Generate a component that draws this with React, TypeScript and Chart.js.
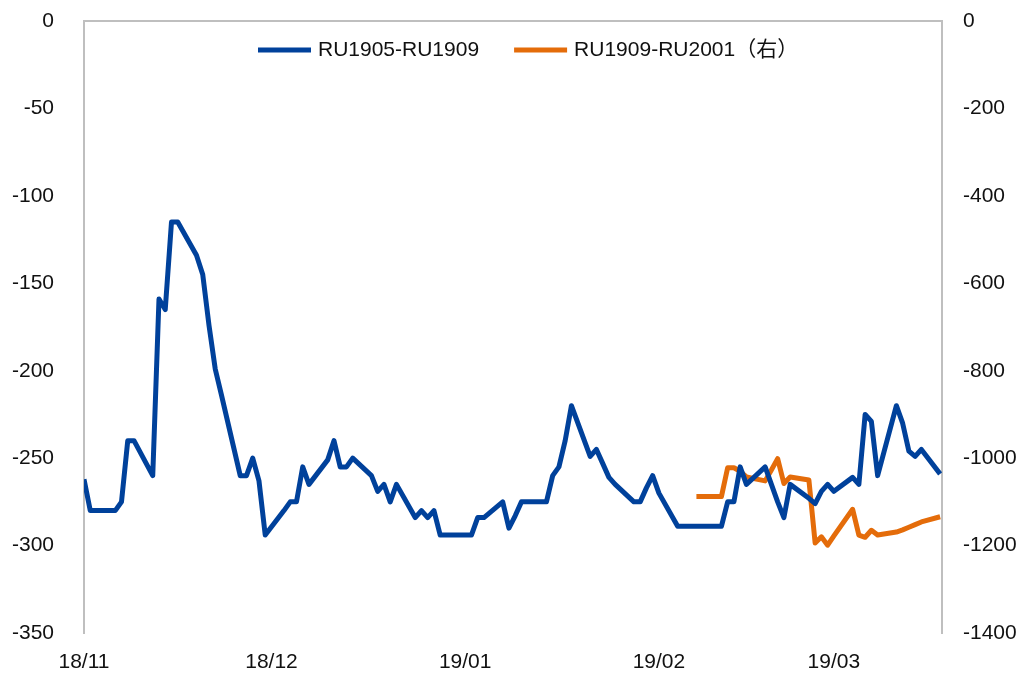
import React, { useEffect, useRef } from 'react';
import { Chart, registerables } from 'chart.js';

Chart.register(...registerables);

const SERIES_A_LABEL = 'RU1905-RU1909';
const SERIES_B_LABEL = 'RU1909-RU2001（右）';

const DATES_A = [
  '2018-11-01', '2018-11-02', '2018-11-05', '2018-11-06', '2018-11-07', '2018-11-08', '2018-11-09',
  '2018-11-12', '2018-11-13', '2018-11-14', '2018-11-15', '2018-11-16',
  '2018-11-19', '2018-11-20', '2018-11-21', '2018-11-22', '2018-11-23',
  '2018-11-26', '2018-11-27', '2018-11-28', '2018-11-29', '2018-11-30',
  '2018-12-03', '2018-12-04', '2018-12-05', '2018-12-06', '2018-12-07',
  '2018-12-10', '2018-12-11', '2018-12-12', '2018-12-13', '2018-12-14',
  '2018-12-17', '2018-12-18', '2018-12-19', '2018-12-20', '2018-12-21',
  '2018-12-24', '2018-12-25', '2018-12-26', '2018-12-27', '2018-12-28',
  '2019-01-02', '2019-01-03', '2019-01-04',
  '2019-01-07', '2019-01-08', '2019-01-09', '2019-01-10', '2019-01-11',
  '2019-01-14', '2019-01-15', '2019-01-16', '2019-01-17', '2019-01-18',
  '2019-01-21', '2019-01-22', '2019-01-23', '2019-01-24', '2019-01-25',
  '2019-01-28', '2019-01-29', '2019-01-30', '2019-01-31', '2019-02-01',
  '2019-02-04', '2019-02-11', '2019-02-12', '2019-02-13', '2019-02-14', '2019-02-15',
  '2019-02-18', '2019-02-19', '2019-02-20', '2019-02-21', '2019-02-22',
  '2019-02-25', '2019-02-26', '2019-02-27', '2019-02-28', '2019-03-01',
  '2019-03-04', '2019-03-05', '2019-03-06', '2019-03-07', '2019-03-08',
  '2019-03-11', '2019-03-12', '2019-03-13', '2019-03-14', '2019-03-15',
  '2019-03-18',
];
const VALUES_A = [
  -262, -280, -280, -280, -275, -240, -240,
  -260, -159, -165, -115, -115,
  -134, -145, -174, -199, -214,
  -260, -260, -250, -263, -294,
  -280, -275, -275, -255, -265,
  -251, -240, -255, -255, -250,
  -260, -269, -265, -275, -265,
  -284, -280, -284, -280, -294,
  -294, -284, -284,
  -275, -290, -283, -275, -275,
  -275, -260, -255, -240, -220,
  -249, -245, -253, -261, -265,
  -275, -275, -267, -260, -270,
  -289, -289, -275, -275, -255, -265,
  -255, -265, -275, -284, -265,
  -273, -276, -269, -265, -269,
  -261, -265, -225, -229, -260,
  -220, -230, -246, -249, -245,
  -259,
];

const DATES_B = [
  '2019-02-07', '2019-02-11', '2019-02-12', '2019-02-13', '2019-02-14', '2019-02-15',
  '2019-02-18', '2019-02-19', '2019-02-20', '2019-02-21', '2019-02-22',
  '2019-02-25', '2019-02-26', '2019-02-27', '2019-02-28', '2019-03-01',
  '2019-03-04', '2019-03-05', '2019-03-06', '2019-03-07', '2019-03-08',
  '2019-03-11', '2019-03-12', '2019-03-13', '2019-03-14', '2019-03-15',
  '2019-03-18',
];
const VALUES_B = [
  -1088, -1088, -1022, -1022, -1030, -1043,
  -1052, -1027, -1001, -1058, -1043,
  -1050, -1194, -1180, -1199, -1178,
  -1117, -1176, -1181, -1165, -1176,
  -1169, -1164, -1158, -1152, -1146,
  -1134,
];

const X_START = '2018-11-01';
const X_END = '2019-03-18';
const X_TICK_DATES = ['2018-11-01', '2018-12-01', '2019-01-01', '2019-02-01', '2019-03-01'];
const X_TICK_LABELS = ['18/11', '18/12', '19/01', '19/02', '19/03'];

const LEFT_MIN = -350;
const LEFT_MAX = 0;
const LEFT_STEP = 50;
const RIGHT_MIN = -1400;
const RIGHT_MAX = 0;
const RIGHT_STEP = 200;

const BLUE = '#00419b';
const ORANGE = '#e46c0a';
const AXIS_COLOR = '#bfbfbf';
const TEXT_COLOR = '#111111';
const FONT_FAMILY = '"Liberation Sans", Arial, "Noto Sans CJK SC", sans-serif';

function dayOf(s: string): number {
  const [y, m, d] = s.split('-').map(Number);
  const [y0, m0, d0] = X_START.split('-').map(Number);
  return (Date.UTC(y, m - 1, d) - Date.UTC(y0, m0 - 1, d0)) / 86400000;
}

const legendPlugin = {
  id: 'customLegend',
  afterDraw(chart: any) {
    const ctx = chart.ctx;
    ctx.save();
    ctx.font = `21px ${FONT_FAMILY}`;
    ctx.textBaseline = 'middle';
    ctx.textAlign = 'left';
    const cy = 50;
    let x = 258;
    chart.data.datasets.forEach((ds: any, i: number) => {
      ctx.fillStyle = ds.borderColor;
      ctx.fillRect(x, cy - 2.5, 53, 5);
      x += 60;
      ctx.fillStyle = TEXT_COLOR;
      ctx.fillText(ds.label, x, cy);
      x += ctx.measureText(ds.label).width;
      if (i === 0) x += 35;
    });
    ctx.restore();
  },
};

function fixVertical(width: number) {
  return (scale: any) => {
    scale.width = width;
    scale.paddingTop = 0;
    scale.paddingBottom = 0;
  };
}

export default function App() {
  const canvasRef = useRef<HTMLCanvasElement | null>(null);

  useEffect(() => {
    if (!canvasRef.current) return;
    const tickFont = { family: FONT_FAMILY, size: 21 };
    const chart = new Chart(canvasRef.current, {
      type: 'line',
      data: {
        datasets: [
          {
            label: SERIES_A_LABEL,
            data: DATES_A.map((d, i) => ({ x: dayOf(d), y: VALUES_A[i] })),
            borderColor: BLUE,
            backgroundColor: BLUE,
            borderWidth: 5,
            pointRadius: 0,
            tension: 0,
            borderJoinStyle: 'round',
            yAxisID: 'y',
          },
          {
            label: SERIES_B_LABEL,
            data: DATES_B.map((d, i) => ({ x: dayOf(d), y: VALUES_B[i] })),
            borderColor: ORANGE,
            backgroundColor: ORANGE,
            borderWidth: 5,
            pointRadius: 0,
            tension: 0,
            borderJoinStyle: 'round',
            yAxisID: 'y1',
          },
        ],
      },
      options: {
        animation: false,
        responsive: false,
        maintainAspectRatio: false,
        layout: { padding: { top: 21, left: 0, right: 0, bottom: 0 } },
        plugins: {
          legend: { display: false },
          tooltip: { enabled: false },
        },
        scales: {
          x: {
            type: 'linear',
            min: 0,
            max: dayOf(X_END) + 0.3,
            grid: { display: false, drawTicks: false },
            border: { display: false },
            afterBuildTicks: (scale: any) => {
              scale.ticks = X_TICK_DATES.map((d) => ({ value: dayOf(d) }));
            },
            afterFit: (scale: any) => {
              scale.height = 41;
              scale.paddingLeft = 0;
              scale.paddingRight = 0;
            },
            ticks: {
              autoSkip: false,
              maxRotation: 0,
              padding: 17,
              color: TEXT_COLOR,
              font: tickFont,
              callback: (_v: any, i: number) => X_TICK_LABELS[i],
            },
          },
          y: {
            position: 'left',
            min: LEFT_MIN,
            max: LEFT_MAX,
            grid: {
              drawTicks: false,
              lineWidth: 2,
              color: (c: any) => (c.tick && c.tick.value === 0 ? AXIS_COLOR : 'rgba(0,0,0,0)'),
            },
            border: { display: true, color: AXIS_COLOR, width: 2 },
            afterFit: fixVertical(84),
            ticks: {
              stepSize: LEFT_STEP,
              padding: 30,
              color: TEXT_COLOR,
              font: tickFont,
              callback: (v: any) => String(v),
            },
          },
          y1: {
            position: 'right',
            min: RIGHT_MIN,
            max: RIGHT_MAX,
            grid: { display: false, drawTicks: false },
            border: { display: true, color: AXIS_COLOR, width: 2 },
            afterFit: fixVertical(86),
            ticks: {
              stepSize: RIGHT_STEP,
              padding: 21,
              color: TEXT_COLOR,
              font: tickFont,
              callback: (v: any) => String(v),
            },
          },
        },
      },
      plugins: [legendPlugin],
    } as any);
    return () => chart.destroy();
  }, []);

  return (
    <div style={{ position: 'absolute', left: 0, top: 0, width: 1028, height: 674, background: '#fff' }}>
      <canvas ref={canvasRef} width={1028} height={674} style={{ display: 'block' }} />
    </div>
  );
}
